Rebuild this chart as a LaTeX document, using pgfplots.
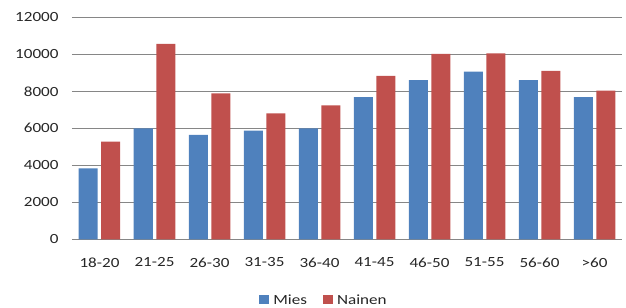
\documentclass[border=0pt]{standalone}
\usepackage{fontspec}
\setmainfont{Carlito}
\usepackage{graphicx}
\usepackage{pgfplots}
\pgfplotsset{compat=1.18}
\definecolor{mies}{HTML}{4F81BD}
\definecolor{nainen}{HTML}{C0504D}
\definecolor{gridc}{HTML}{868686}
\definecolor{txt}{HTML}{262626}
\newcommand\sx[1]{\scalebox{1.22}[1]{#1}}
\begin{document}
\begin{tikzpicture}
\useasboundingbox (-72bp,-68.7bp) rectangle (554bp,239.3bp);
\begin{axis}[
  at={(0,0)}, anchor=south west,
  scale only axis, width=550bp, height=222bp,
  ybar=3.5bp, bar width=19bp,
  xmin=-0.5, xmax=9.5, ymin=0, ymax=12000,
  xtick=data,
  xticklabels={\sx{18-20},\sx{21-25},\sx{26-30},\sx{31-35},\sx{36-40},\sx{41-45},\sx{46-50},\sx{51-55},\sx{56-60},\sx{>60}},
  ytick={0,2000,4000,6000,8000,10000,12000},
  yticklabels={\sx{0},\sx{2000},\sx{4000},\sx{6000},\sx{8000},\sx{10000},\sx{12000}},
  scaled y ticks=false,
  yticklabel style={xshift=-10bp},
  xticklabel style={yshift=-15bp},
  ticklabel style={font=\fontsize{14bp}{16bp}\selectfont, text=txt},
  major tick length=0pt,
  axis line style={draw=none},
  ymajorgrids, grid style={gridc, line width=0.8pt},
  legend columns=2,
  legend style={at={(0.4564,-0.2734)}, anchor=center, draw=none, fill=none,
    font=\fontsize{14bp}{16bp}\selectfont, text=txt,
    nodes={inner xsep=0pt, inner ysep=1bp},
    /tikz/every even column/.append style={column sep=16bp}},
  legend image code/.code={\fill[#1] (0bp,-4.5bp) rectangle (10bp,4.5bp); \path (14bp,0bp);},
]
\addplot[fill=mies, draw=none] coordinates {(0,3840) (1,6000) (2,5650) (3,5870) (4,6000) (5,7680) (6,8610) (7,9060) (8,8610) (9,7680)};
\addplot[fill=nainen, draw=none] coordinates {(0,5280) (1,10570) (2,7890) (3,6810) (4,7240) (5,8830) (6,10020) (7,10050) (8,9110) (9,8030)};
\legend{\sx{Mies}, \sx{Nainen}}
\end{axis}
\end{tikzpicture}
\end{document}
